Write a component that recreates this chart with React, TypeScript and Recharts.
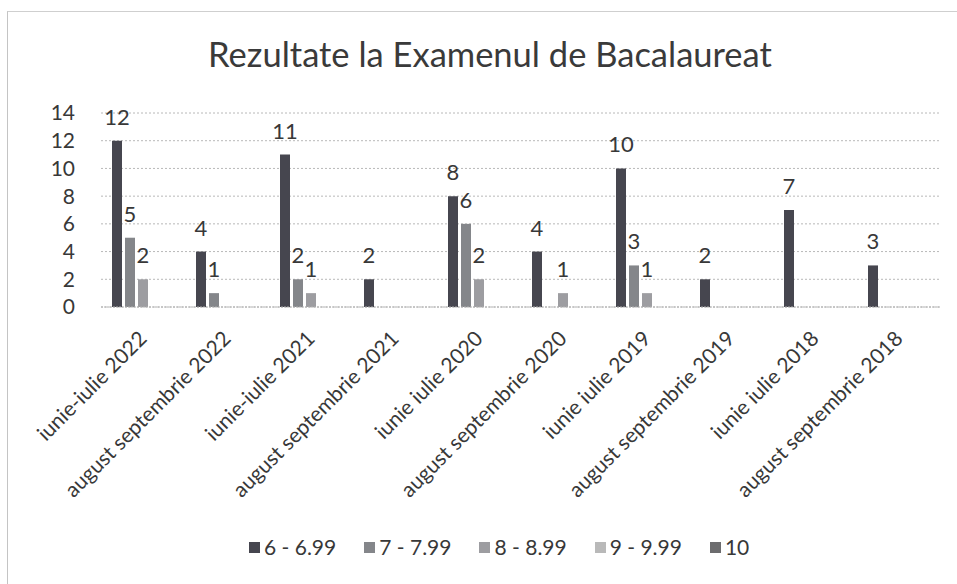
import React from 'react';
import { BarChart, Bar, XAxis, YAxis, CartesianGrid, Legend, LabelList } from 'recharts';

const categories = [
  'iunie-iulie 2022',
  'august septembrie 2022',
  'iunie-iulie 2021',
  'august septembrie 2021',
  'iunie iulie 2020',
  'august septembrie 2020',
  'iunie iulie 2019',
  'august septembrie 2019',
  'iunie iulie 2018',
  'august septembrie 2018',
];
const s6 = [12, 4, 11, 2, 8, 4, 10, 2, 7, 3];
const s7 = [5, 1, 2, null, 6, null, 3, null, null, null];
const s8 = [2, null, 1, null, 2, 1, 1, null, null, null];
const s9 = [null, null, null, null, null, null, null, null, null, null];
const s10 = [null, null, null, null, null, null, null, null, null, null];
const seriesNames = ['6 - 6.99', '7 - 7.99', '8 - 8.99', '9 - 9.99', '10'];
const yTicks = [0, 2, 4, 6, 8, 10, 12, 14];

const seriesValues = [s6, s7, s8, s9, s10];
const seriesKeys = ['s6', 's7', 's8', 's9', 's10'];
const colors = ['#46464f', '#84868a', '#9d9da1', '#b9b9b9', '#6c6c6e'];

const data = categories.map((name, i) => {
  const row: any = { name };
  seriesKeys.forEach((k, j) => {
    row[k] = seriesValues[j][i];
  });
  return row;
});

const FONT = 'Lato, "Open Sans", sans-serif';
const TEXT = '#383838';

const XTick = (props: any) => {
  const { x, y, payload } = props;
  return (
    <text
      transform={`translate(${x + 5},${y + 33}) rotate(-45)`}
      textAnchor="end"
      fontFamily={FONT}
      fontSize={21}
      fill={TEXT}
    >
      {payload.value}
    </text>
  );
};

const BarLabel = (props: any) => {
  const { x, y, width, value } = props;
  if (value === null || value === undefined || value === 0) return null;
  return (
    <text
      x={Number(x) + Number(width) / 2}
      y={Number(y) - 16}
      textAnchor="middle"
      fontFamily={FONT}
      fontSize={22}
      fill={TEXT}
    >
      {value}
    </text>
  );
};

const LegendContent = (props: any) => {
  const payload = [...(props.payload || [])].sort(
    (a: any, b: any) => seriesNames.indexOf(a.value) - seriesNames.indexOf(b.value)
  );
  return (
    <div style={{ display: 'flex', fontFamily: FONT, fontSize: 21, color: TEXT, lineHeight: '26px' }}>
      {payload.map((p: any) => (
        <div key={p.value} style={{ display: 'flex', alignItems: 'center', marginRight: 28 }}>
          <span
            style={{ width: 11, height: 11, background: p.color, display: 'inline-block', marginRight: 4 }}
          />
          <span>{p.value}</span>
        </div>
      ))}
    </div>
  );
};

export default function App() {
  return (
    <div style={{ position: 'absolute', left: 0, top: 0, width: 957, height: 584, background: '#fff' }}>
      <div
        style={{
          position: 'absolute',
          left: 7,
          top: 11,
          width: 950,
          height: 573,
          borderLeft: '1px solid #c4c4c4',
          borderTop: '1px solid #cfcfcf',
        }}
      />
      <svg width={957} height={90} style={{ position: 'absolute', left: 0, top: 0 }}>
        <text x={490} y={67} textAnchor="middle" fontFamily={FONT} fontSize={34.5} fill="#3a3a3a">
          Rezultate la Examenul de Bacalaureat
        </text>
      </svg>
      <div style={{ position: 'absolute', left: 0, top: 0 }}>
        <BarChart
          width={957}
          height={584}
          data={data}
          margin={{ top: 113, right: 16, left: 0, bottom: 0 }}
          barCategoryGap={11}
          barGap={3}
        >
          <CartesianGrid vertical={false} stroke="#b8b8b8" strokeDasharray="2 2" />
          <XAxis
            dataKey="name"
            interval={0}
            height={277}
            tick={<XTick />}
            tickLine={false}
            tickSize={0}
            tickMargin={0}
            axisLine={{ stroke: '#b0b0b0', strokeDasharray: '2 1' }}
          />
          <YAxis
            width={101}
            domain={[0, 14]}
            ticks={yTicks}
            interval={0}
            axisLine={false}
            tickLine={false}
            tickSize={0}
            tickMargin={26}
            tick={{ fontFamily: FONT, fontSize: 21, fill: TEXT }}
          />
          <Legend
            layout="horizontal"
            verticalAlign="middle"
            align="center"
            content={<LegendContent />}
            wrapperStyle={{ left: 249, top: 534, width: 560 }}
          />
          {seriesKeys.map((k, j) => (
            <Bar key={k} dataKey={k} name={seriesNames[j]} fill={colors[j]} isAnimationActive={false}>
              <LabelList dataKey={k} content={<BarLabel />} />
            </Bar>
          ))}
        </BarChart>
      </div>
    </div>
  );
}
